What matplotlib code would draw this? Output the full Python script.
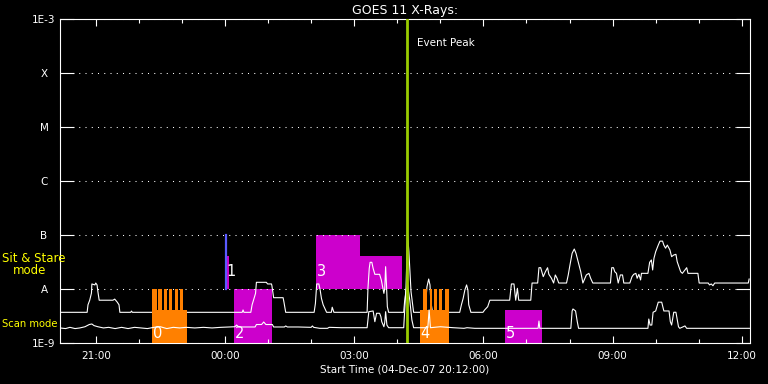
import numpy as np
import matplotlib
matplotlib.use("Agg")
import matplotlib.pyplot as plt
from matplotlib.ticker import FixedLocator, MultipleLocator, NullLocator

# time in hours after 00:00 on 04-Dec-07 (24 = midnight, 36 = 12:00 next day)
# flux in units of 1e-9 W/m^2

# long channel (1-8 A)
long_t = [
    20.17, 20.80, 20.82, 20.86, 20.90, 20.91, 20.98, 21.00, 21.03, 21.05,
    21.08, 21.40, 21.44, 21.50, 21.54, 21.56, 21.81, 21.83, 21.85, 24.40,
    24.42, 24.44, 24.60, 24.63, 24.68, 24.71, 24.73, 24.96, 24.99, 25.08,
    25.09, 25.13, 25.35, 25.37, 25.41, 26.07, 26.10, 26.13, 26.18, 26.21,
    26.24, 26.28, 26.36, 26.47, 26.49, 26.53, 27.30, 27.32, 27.35, 27.37,
    27.41, 27.44, 27.48, 27.59, 27.63, 27.66, 27.69, 27.71, 27.73, 27.75,
    27.77, 27.80, 28.15, 28.17, 28.20, 28.24, 28.27, 28.29, 28.32, 28.35,
    28.38, 28.64, 28.66, 28.69, 28.73, 28.76, 28.78, 28.82, 29.45, 29.49,
    29.53, 29.57, 29.61, 29.64, 29.66, 29.71, 29.99, 30.03, 30.10, 30.15,
    30.61, 30.65, 30.71, 30.75, 30.79, 30.82, 31.10, 31.13, 31.26, 31.29,
    31.33, 31.39, 31.44, 31.49, 31.52, 31.58, 31.63, 31.67, 31.71, 31.75,
    31.93, 31.97, 32.01, 32.06, 32.11, 32.15, 32.20, 32.26, 32.31, 32.39,
    32.45, 32.49, 32.54, 32.95, 32.98, 33.02, 33.05, 33.09, 33.13, 33.18,
    33.23, 33.26, 33.40, 33.45, 33.49, 33.54, 33.57, 33.61, 33.65, 33.67,
    33.82, 33.86, 33.90, 33.93, 33.96, 34.00, 34.06, 34.10, 34.16, 34.19,
    34.23, 34.27, 34.33, 34.37, 34.42, 34.47, 34.50, 34.54, 34.58, 34.62,
    34.68, 34.72, 34.75, 34.98, 35.01, 35.22, 35.25, 35.29, 35.33, 35.37,
    36.15, 36.17]
long_flux = [
    3.7, 3.7, 5.1, 6.2, 8.4, 12.4, 11.9, 12.9, 11.9, 8.9,
    6.2, 6.2, 6.5, 5.7, 5.1, 3.7, 3.7, 3.9, 3.7, 3.7,
    4.1, 3.7, 3.7, 5.1, 6.9, 8.3, 13.3, 13.3, 12.4, 12.4,
    11.5, 6.9, 6.9, 5.7, 3.7, 3.7, 5.4, 12.4, 12.4, 9.6,
    6.7, 5.1, 3.7, 3.7, 4.6, 3.7, 3.7, 10.3, 24.1, 31.2,
    31.2, 24.1, 18.7, 18.7, 14.7, 11.0, 8.3, 10.3, 25.9, 11.9,
    4.7, 3.7, 3.7, 5.8, 8.9, 103, 49, 24.5, 8.9, 5.8,
    3.7, 3.7, 5.8, 11.0, 15.3, 11.9, 5.8, 3.7, 3.7, 5.1,
    6.7, 9.6, 11.9, 9.6, 5.1, 3.7, 3.7, 4.1, 4.7, 6.2,
    6.2, 12.4, 12.4, 6.2, 10.3, 6.2, 6.2, 12.9, 12.9, 24.8,
    24.8, 16.9, 20.9, 24.8, 18.7, 15.8, 12.9, 18.2, 15.8, 12.9,
    12.9, 18.2, 27.8, 45.8, 55, 45.8, 32, 20.9, 12.9, 18.2,
    19.5, 15.8, 12.9, 12.9, 24.8, 24.8, 20.9, 19.5, 12.9, 18.2,
    18.2, 12.9, 12.9, 16.9, 18.7, 19.5, 15.8, 18.7, 14.7, 19.5,
    19.5, 31.2, 34.5, 22.5, 37, 49, 65, 77, 77, 65,
    57, 65, 53, 39.7, 42.6, 43.9, 32, 25.9, 20.9, 19.5,
    22.5, 24.8, 19.5, 19.5, 12.9, 12.9, 11.9, 12.4, 11.5, 12.9,
    12.9, 15.3]

# short channel (0.5-4 A)
short_t = [
    20.17, 20.30, 20.40, 20.52, 20.63, 20.75, 20.85, 20.91, 20.96, 21.05,
    21.18, 21.30, 21.45, 21.60, 21.75, 21.90, 22.05, 22.20, 22.35, 22.50,
    22.65, 22.80, 22.95, 23.10, 23.30, 23.50, 23.70, 23.90, 24.10, 24.23,
    24.27, 24.32, 24.50, 24.70, 24.73, 24.85, 24.90, 24.95, 25.10, 25.13,
    25.38, 25.41, 25.45, 25.70, 26.00, 26.03, 26.06, 26.20, 26.25, 26.38,
    26.42, 26.70, 27.00, 27.30, 27.34, 27.44, 27.48, 27.52, 27.59, 27.62,
    27.64, 27.69, 27.71, 27.73, 27.76, 27.80, 28.00, 28.15, 28.20, 28.24,
    28.29, 28.34, 28.38, 28.55, 28.71, 28.74, 28.77, 29.00, 29.30, 29.55,
    29.62, 29.80, 30.10, 30.40, 30.70, 31.00, 31.27, 31.29, 31.31, 31.60,
    31.80, 32.03, 32.06, 32.08, 32.14, 32.18, 32.21, 32.50, 32.80, 33.10,
    33.40, 33.60, 33.82, 33.84, 33.87, 33.91, 33.94, 34.00, 34.06, 34.14,
    34.19, 34.31, 34.34, 34.37, 34.42, 34.47, 34.53, 34.56, 34.68, 34.72,
    35.00, 35.30, 35.60, 35.90, 36.10, 36.19]
short_flux = [
    1.90, 1.85, 1.95, 1.85, 1.90, 2.00, 2.20, 2.25, 2.10, 2.00,
    1.90, 1.95, 1.85, 1.95, 1.85, 1.95, 1.90, 1.85, 1.95, 2.00,
    1.85, 1.95, 1.90, 1.95, 1.90, 1.95, 1.90, 1.95, 1.98, 2.00,
    2.15, 1.98, 1.98, 1.98, 2.20, 2.20, 2.45, 2.20, 2.20, 1.98,
    1.98, 2.07, 1.98, 1.98, 1.95, 2.07, 1.95, 1.87, 1.87, 1.87,
    1.95, 1.92, 1.92, 1.92, 3.80, 3.92, 2.48, 3.55, 3.55, 3.07,
    2.48, 2.00, 2.42, 3.80, 2.15, 1.92, 1.92, 1.92, 9.6, 11.9,
    6.25, 2.67, 1.92, 1.92, 1.92, 4.10, 1.92, 2.00, 1.92, 1.87,
    1.92, 1.87, 1.87, 1.87, 1.87, 1.87, 1.87, 2.55, 1.87, 1.87,
    1.87, 1.87, 3.92, 4.27, 3.92, 2.48, 1.87, 1.87, 1.87, 1.87,
    1.87, 1.87, 1.87, 2.78, 2.15, 2.15, 3.71, 3.92, 5.70, 5.70,
    3.92, 3.92, 2.48, 2.15, 3.71, 3.71, 2.00, 1.87, 2.07, 1.87,
    1.87, 1.87, 1.87, 1.87, 1.87, 1.87]

# observing blocks
seg_start = [22.30, 24.00, 24.20, 26.12, 27.13, 28.52, 30.50]
seg_end = [23.11, 24.09, 25.10, 27.13, 28.12, 29.20, 31.37]
seg_low = [1e-9, 1e-8, 1e-9, 1e-8, 1e-8, 1e-9, 1e-9]
seg_high = [4.1e-9, 4.1e-8, 1e-8, 1e-7, 4.1e-8, 4.1e-9, 4.1e-9]
seg_kind = ["orange", "magenta", "magenta", "magenta", "magenta", "orange", "magenta"]

stripe_start = [22.30, 22.455, 22.58, 22.695, 22.83, 22.95, 28.59, 28.76, 28.85, 28.97, 29.10]
stripe_end = [22.415, 22.53, 22.645, 22.775, 22.91, 23.035, 28.68, 28.815, 28.925, 29.045, 29.20]
stripe_low = 4.1e-9
stripe_high = 1e-8

block_label = ["0", "1", "2", "3", "4", "5"]
block_label_t = [22.30, 24.02, 24.20, 26.12, 28.52, 30.50]
block_label_flux = [1.5e-9, 2.15e-8, 1.5e-9, 2.15e-8, 1.5e-9, 1.5e-9]

stare_line_t = 24.02
peak_t = 28.22

level_flux = [1e-9, 1e-8, 1e-7, 1e-6, 1e-5, 1e-4, 1e-3]
level_name = ["1E-9", "A", "B", "C", "M", "X", "1E-3"]
hour_ticks = [21, 24, 27, 30, 33, 36]
hour_labels = ["21:00", "00:00", "03:00", "06:00", "09:00", "12:00"]

colors = {"orange": "#ff8000", "magenta": "#cc00cc"}

fig = plt.figure(figsize=(7.68, 3.84), dpi=100, facecolor="black")
ax = fig.add_axes([60 / 768, 1 - 343 / 384, 690 / 768, 324 / 384])
ax.set_facecolor("black")
ax.set_yscale("log")
ax.set_ylim(1e-9, 1e-3)
ax.set_xlim(20.17, 36.19)

for sp in ax.spines.values():
    sp.set_color("white")
    sp.set_linewidth(0.8)

# blocks
for s, e, lo, hi, k in zip(seg_start, seg_end, seg_low, seg_high, seg_kind):
    z = 3 if k == "orange" else 1
    ax.bar(s, hi - lo, width=e - s, bottom=lo, align="edge",
           color=colors[k], linewidth=0, zorder=z)
for s, e in zip(stripe_start, stripe_end):
    ax.bar(s, stripe_high - stripe_low, width=e - s, bottom=stripe_low,
           align="edge", color=colors["orange"], linewidth=0, zorder=3)
ax.plot([stare_line_t, stare_line_t], [1e-8, 1e-7], color="#5a5aff", lw=1.6, zorder=3)

# curves
ax.plot(long_t, np.array(long_flux) * 1e-9, color="white", lw=0.8, zorder=2)
ax.plot(short_t, np.array(short_flux) * 1e-9, color="white", lw=0.8, zorder=4)

for txt, t, f in zip(block_label, block_label_t, block_label_flux):
    ax.annotate(txt, (t, f), xytext=(1, 0), textcoords="offset pixels",
                color="white", fontsize=10.5, ha="left", va="center", zorder=7)

ax.axvline(peak_t, color="#99cc00", lw=2, zorder=6)
ax.annotate("Event Peak", (peak_t, 1), xycoords=("data", "axes fraction"),
            xytext=(10, -24), textcoords="offset pixels",
            color="white", fontsize=7.5, ha="left", va="center")

# axes
ax.xaxis.set_major_locator(FixedLocator(hour_ticks))
ax.xaxis.set_minor_locator(MultipleLocator(1))
ax.set_xticklabels(hour_labels)
ax.tick_params(axis="x", which="major", direction="in", length=4.7, width=0.8,
               colors="white", top=True, pad=6, labelsize=7.5)
ax.tick_params(axis="x", which="minor", direction="in", length=2.8, width=0.8,
               color="white", top=True)
ax.set_yticks(level_flux, level_name)
ax.yaxis.set_minor_locator(NullLocator())
ax.tick_params(axis="y", which="major", direction="in", length=10, width=0.8,
               colors="white", right=True, pad=11.5, labelsize=7.5)
for lbl in ax.get_yticklabels():
    lbl.set_ha("center")
ax.grid(axis="y", which="major", color="white", linestyle=(0, (1, 5)), linewidth=0.75)
ax.set_axisbelow(False)

ax.set_title("GOES 11 X-Rays:", color="white", fontsize=9, pad=3.5)
ax.set_xlabel("Start Time (04-Dec-07 20:12:00)", color="white", fontsize=7.5, labelpad=2)

fig.text(2 / 768, 1 - 259 / 384, "Sit & Stare", color="yellow", fontsize=8.5, ha="left", va="center")
fig.text(12.7 / 768, 1 - 271 / 384, "mode", color="yellow", fontsize=8.5, ha="left", va="center")
fig.text(2 / 768, 1 - 324 / 384, "Scan mode", color="yellow", fontsize=7.2, ha="left", va="center")

fig.savefig("out.png", dpi=100, facecolor="black")
